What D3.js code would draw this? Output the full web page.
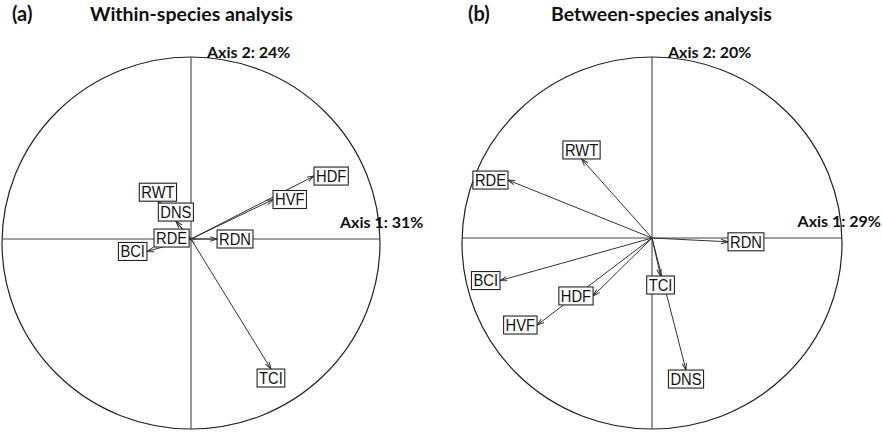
<!DOCTYPE html>
<html>
<head>
<meta charset="utf-8">
<script src="https://cdn.jsdelivr.net/npm/d3@7"></script>
<style>
  body { margin: 0; background: #fff; }
</style>
</head>
<body>
<script>
const width = 882, height = 434;

// correlations of each variable with the two axes
const withinVars = ["RDE", "RDN", "DNS", "RWT", "HVF", "HDF", "BCI", "TCI"];
const withinAxis1 = [-0.01, 0.138, -0.08, -0.175, 0.434, 0.651, -0.233, 0.423];
const withinAxis2 = [0.005, 0.0, 0.095, 0.20, 0.209, 0.333, -0.066, -0.688];
const withinInertia = [31, 24];

const betweenVars = ["RWT", "RDE", "RDN", "BCI", "HDF", "HVF", "TCI", "DNS"];
const betweenAxis1 = [-0.371, -0.758, 0.40, -0.80, -0.31, -0.605, 0.045, 0.179];
const betweenAxis2 = [0.416, 0.305, -0.02, -0.224, -0.305, -0.458, -0.20, -0.695];
const betweenInertia = [29, 20];

// the printed circle is slightly squashed and sits a few pixels below the axes
const panels = [
  { tag: "(a)", title: "Within-species analysis", vars: withinVars, x: withinAxis1, y: withinAxis2,
    inertia: withinInertia, cx: 191, cy: 239, r: 189, ry: 186, dy: 4, tagX: 12, titleX: 90 },
  { tag: "(b)", title: "Between-species analysis", vars: betweenVars, x: betweenAxis1, y: betweenAxis2,
    inertia: betweenInertia, cx: 652, cy: 238, r: 190, ry: 186, dy: 5, tagX: 468, titleX: 551 }
];

const svg = d3.select("body").append("svg")
    .attr("width", width)
    .attr("height", height);

svg.append("rect")
    .attr("width", width)
    .attr("height", height)
    .attr("fill", "white");

svg.append("defs").append("marker")
    .attr("id", "head")
    .attr("markerUnits", "userSpaceOnUse")
    .attr("viewBox", "-8 -4 10 8")
    .attr("refX", 0).attr("refY", 0)
    .attr("markerWidth", 10).attr("markerHeight", 8)
    .attr("orient", "auto")
  .append("path")
    .attr("d", "M-7,-2.2L0,0L-7,2.2")
    .attr("fill", "none")
    .attr("stroke", "#333")
    .attr("stroke-width", 1);

const headFont = "Lato, 'Open Sans', sans-serif";
const labelFont = "'Liberation Sans', Arial, sans-serif";

panels.forEach(p => {
  const x = d3.scaleLinear().domain([-1, 1]).range([p.cx - p.r, p.cx + p.r]);
  const y = d3.scaleLinear().domain([-1, 1]).range([p.cy + p.r, p.cy - p.r]);
  const g = svg.append("g");

  // titles
  g.append("text")
      .attr("x", p.tagX).attr("y", 21)
      .attr("font-family", headFont).attr("font-weight", "bold")
      .attr("font-size", 20).attr("fill", "#111")
      .text(p.tag);
  g.append("text")
      .attr("x", p.titleX).attr("y", 21)
      .attr("font-family", headFont).attr("font-weight", "bold")
      .attr("font-size", 19.5).attr("fill", "#111")
      .text(p.title);

  // correlation circle and axes
  const top = y(0) + p.dy - p.ry, bottom = y(0) + p.dy + p.ry;
  g.append("ellipse")
      .attr("cx", x(0)).attr("cy", y(0) + p.dy)
      .attr("rx", x(1) - x(0)).attr("ry", p.ry)
      .attr("fill", "none")
      .attr("stroke", "#222").attr("stroke-width", 1.2);
  g.append("line")
      .attr("x1", x(-1)).attr("x2", x(1))
      .attr("y1", y(0)).attr("y2", y(0))
      .attr("stroke", "#444").attr("stroke-width", 1.1);
  g.append("line")
      .attr("x1", x(0)).attr("x2", x(0))
      .attr("y1", top).attr("y2", bottom)
      .attr("stroke", "#444").attr("stroke-width", 1.1);

  const ax1 = g.append("text")
      .attr("y", y(0) - 11)
      .attr("font-family", headFont).attr("font-weight", "bold")
      .attr("font-size", 16).attr("fill", "#111")
      .text(`Axis 1: ${p.inertia[0]}%`);
  const ax1w = ax1.node().getComputedTextLength();
  ax1.attr("x", Math.min(x(1) - 40, width - ax1w - 1));
  g.append("text")
      .attr("x", x(0) + 16).attr("y", top + 1)
      .attr("font-family", headFont).attr("font-weight", "bold")
      .attr("font-size", 16).attr("fill", "#111")
      .text(`Axis 2: ${p.inertia[1]}%`);

  const pts = p.vars.map((v, i) => ({ name: v, a1: p.x[i], a2: p.y[i] }));

  // arrows
  g.selectAll("line.arrow")
    .data(pts)
    .enter().append("line")
      .attr("class", "arrow")
      .attr("x1", x(0)).attr("y1", y(0))
      .attr("x2", d => x(d.a1)).attr("y2", d => y(d.a2))
      .attr("stroke", "#333").attr("stroke-width", 1)
      .attr("marker-end", "url(#head)");

  // boxed labels placed just outside the arrow tip
  const labels = g.selectAll("g.lab")
    .data(pts)
    .enter().append("g")
      .attr("class", "lab");

  labels.each(function(d) {
    const el = d3.select(this);
    const rect = el.append("rect");
    const t = el.append("text")
        .attr("font-family", labelFont)
        .attr("font-size", 16)
        .attr("fill", "#111")
        .attr("text-anchor", "middle")
        .text(d.name);
    const tw = t.node().getComputedTextLength() * 0.92;
    t.attr("textLength", tw).attr("lengthAdjust", "spacingAndGlyphs");
    const w = tw + 4;
    const h = 18;
    const px = x(d.a1), py = y(d.a2);
    let bx, by;
    if (Math.abs(d.a1) >= Math.abs(d.a2)) {
      bx = d.a1 > 0 ? px + w / 2 : px - w / 2;
      by = py;
    } else {
      bx = px;
      by = d.a2 > 0 ? py - h / 2 : py + h / 2;
    }
    rect.attr("x", bx - w / 2).attr("y", by - h / 2)
        .attr("width", w).attr("height", h)
        .attr("fill", "white")
        .attr("stroke", "#222").attr("stroke-width", 1.1);
    t.attr("x", bx).attr("y", by + 5.8);
  });
});
</script>
</body>
</html>
